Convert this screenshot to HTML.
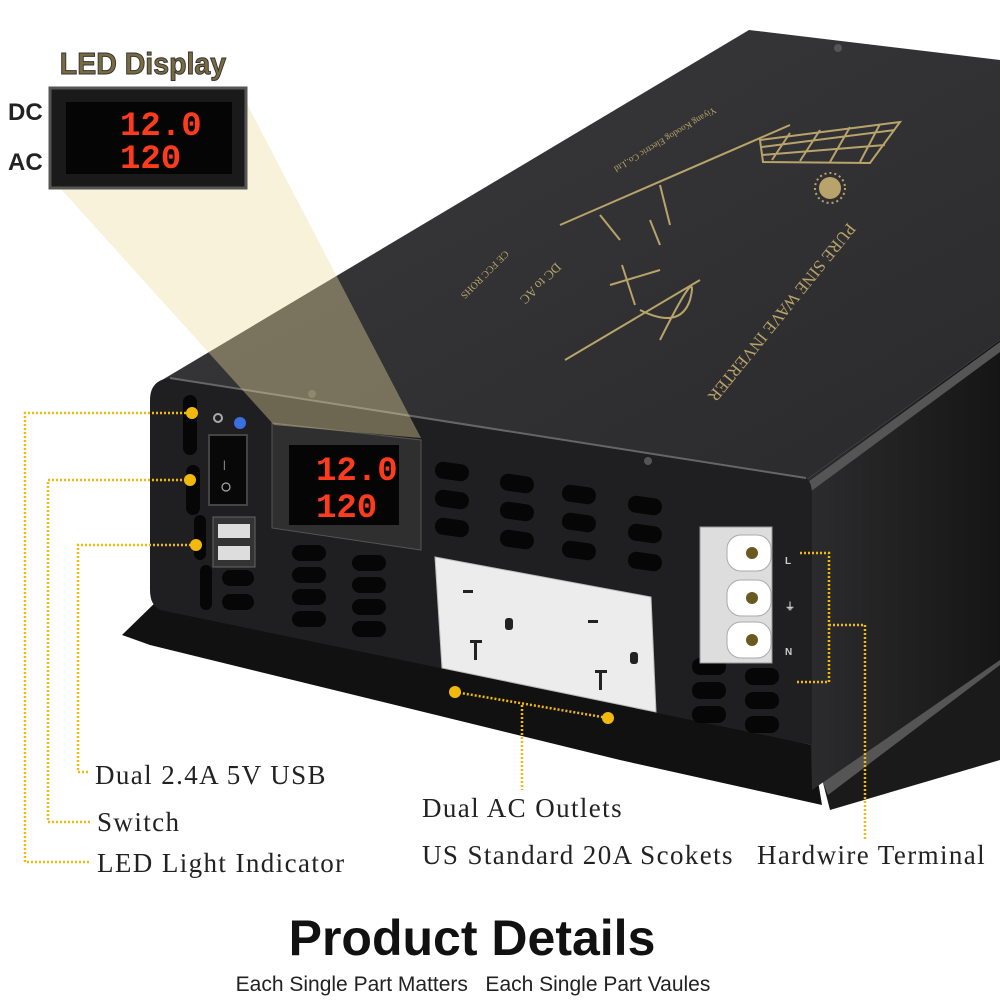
<!DOCTYPE html>
<html><head><meta charset="utf-8"><style>
html,body{margin:0;padding:0;background:#fff;}
svg{display:block;}
.lbl{font-family:"Liberation Serif",serif;font-size:27px;fill:#222;letter-spacing:1.4px;}
</style></head><body>
<svg width="1000" height="1000" viewBox="0 0 1000 1000" xmlns="http://www.w3.org/2000/svg">
<defs>
<linearGradient id="top" x1="0" y1="0" x2="1" y2="1">
<stop offset="0" stop-color="#3a3a3c"/><stop offset="1" stop-color="#2a2a2c"/></linearGradient>
<linearGradient id="side" x1="0" y1="0" x2="1" y2="0">
<stop offset="0" stop-color="#2c2c2e"/><stop offset="1" stop-color="#151515"/></linearGradient>
</defs>
<polygon points="122,635 160,598 812,745 822,805 620,760 150,645" fill="#111"/>
<polygon points="812,740 1000,610 1000,760 830,810" fill="#1a1a1a"/>
<polygon points="822,780 1000,650 1000,665 828,795" fill="#555"/>
<polygon points="806,480 1000,340 1000,660 812,790" fill="url(#side)"/>
<polygon points="808,482 1000,342 1000,352 810,492" fill="#555"/>
<polygon points="749,30 1000,60 1000,340 806,480 157,383" fill="url(#top)"/>
<path d="M170,378 L806,478 Q812,482 812,495 L812,745 L160,610 Q150,605 150,590 L150,400 Q150,380 170,378 Z" fill="#1f1f21"/>
<path d="M170,378 L806,478" stroke="#666" stroke-width="2"/>
<g fill="none" stroke="#b8a46a" stroke-width="2">
<polygon points="760,140 900,122 870,163 763,162"/>
<path d="M790,133 L772,160 M820,130 L800,161 M850,127 L830,162 M880,124 L860,162 M762,147 L895,130 M762,155 L885,145"/>
<path d="M560,225 L790,125 M660,185 L670,225 M600,215 L620,240 M650,220 L660,245"/>
<path d="M610,285 L660,270 M622,265 L635,305"/>
<path d="M565,360 L700,280 M660,340 Q700,260 690,300 Q680,330 640,310"/>
</g>
<circle cx="830" cy="188" r="11" fill="#b8a46a"/>
<circle cx="830" cy="188" r="15" fill="none" stroke="#b8a46a" stroke-width="2" stroke-dasharray="2 3"/>
<g font-family="Liberation Serif,serif" fill="#b8a46a">
<text x="0" y="0" font-size="17" transform="translate(848,222) rotate(129)">PURE SINE WAVE INVERTER</text>
<text x="0" y="0" font-size="13" transform="translate(556,262) rotate(135)">DC to AC</text>
<text x="0" y="0" font-size="10" transform="translate(505,250) rotate(135)">CE FCC ROHS</text>
<text x="0" y="0" font-size="9" transform="translate(714,107) rotate(149)">Yiyang Koodog Electric Co.,Ltd</text>
</g>
<circle cx="838" cy="48" r="4" fill="#555"/>
<circle cx="312" cy="394" r="4" fill="#555"/>
<circle cx="648" cy="461" r="4" fill="#555"/>
<g fill="#060606">
<rect x="435" y="463" width="34" height="17" rx="8" transform="rotate(8 452 471)"/>
<rect x="435" y="491" width="34" height="17" rx="8" transform="rotate(8 452 499)"/>
<rect x="435" y="519" width="34" height="17" rx="8" transform="rotate(8 452 527)"/>
<rect x="500" y="475" width="34" height="17" rx="8" transform="rotate(8 517 483)"/>
<rect x="500" y="503" width="34" height="17" rx="8" transform="rotate(8 517 511)"/>
<rect x="500" y="531" width="34" height="17" rx="8" transform="rotate(8 517 539)"/>
<rect x="562" y="486" width="34" height="17" rx="8" transform="rotate(8 579 494)"/>
<rect x="562" y="514" width="34" height="17" rx="8" transform="rotate(8 579 522)"/>
<rect x="562" y="542" width="34" height="17" rx="8" transform="rotate(8 579 550)"/>
<rect x="628" y="497" width="34" height="17" rx="8" transform="rotate(8 645 505)"/>
<rect x="628" y="525" width="34" height="17" rx="8" transform="rotate(8 645 533)"/>
<rect x="628" y="553" width="34" height="17" rx="8" transform="rotate(8 645 561)"/>
<rect x="222" y="570" width="32" height="16" rx="8"/>
<rect x="222" y="594" width="32" height="16" rx="8"/>
<rect x="292" y="545" width="34" height="16" rx="8"/>
<rect x="292" y="567" width="34" height="16" rx="8"/>
<rect x="292" y="589" width="34" height="16" rx="8"/>
<rect x="292" y="611" width="34" height="16" rx="8"/>
<rect x="352" y="555" width="34" height="16" rx="8"/>
<rect x="352" y="577" width="34" height="16" rx="8"/>
<rect x="352" y="599" width="34" height="16" rx="8"/>
<rect x="352" y="621" width="34" height="16" rx="8"/>
<rect x="183" y="395" width="14" height="60" rx="7"/>
<rect x="186" y="465" width="14" height="50" rx="7"/>
<rect x="194" y="515" width="12" height="45" rx="6"/>
<rect x="200" y="565" width="12" height="45" rx="6"/>
<rect x="692" y="658" width="34" height="17" rx="8"/>
<rect x="692" y="682" width="34" height="17" rx="8"/>
<rect x="692" y="706" width="34" height="17" rx="8"/>
<rect x="745" y="668" width="34" height="17" rx="8"/>
<rect x="745" y="692" width="34" height="17" rx="8"/>
<rect x="745" y="716" width="34" height="17" rx="8"/>
</g>
<rect x="209" y="435" width="38" height="70" fill="#080808" stroke="#444" stroke-width="2"/>
<text x="223" y="468" font-family="Liberation Sans,sans-serif" font-size="10" fill="#aaa">|</text>
<circle cx="226" cy="487" r="4" fill="none" stroke="#aaa" stroke-width="1.2"/>
<rect x="213" y="517" width="42" height="50" fill="#333" stroke="#666"/>
<rect x="218" y="524" width="32" height="14" fill="#ddd"/>
<rect x="218" y="546" width="32" height="14" fill="#ddd"/>
<circle cx="218" cy="418" r="4" fill="none" stroke="#aaa" stroke-width="2"/>
<circle cx="240" cy="423" r="6" fill="#3a6fe0"/>
<polygon points="272,423 421,440 421,550 272,528" fill="#2f2f30" stroke="#555"/>
<rect x="289" y="445" width="110" height="80" fill="#050505"/>
<g font-family="Liberation Mono,monospace" font-size="34" fill="#ff3b1d" font-weight="bold">
<text x="316" y="480">12.0</text><text x="316" y="517">120</text></g>
<polygon points="435,557 651,597 656,712 442,668" fill="#ececec" stroke="#bbb"/>
<g fill="#222">
<rect x="463" y="590" width="10" height="3"/><rect x="505" y="618" width="8" height="12" rx="3"/>
<rect x="470" y="640" width="12" height="3"/><rect x="474" y="640" width="3" height="20"/>
<rect x="588" y="620" width="10" height="3"/><rect x="630" y="652" width="8" height="12" rx="3"/>
<rect x="595" y="670" width="12" height="3"/><rect x="599" y="670" width="3" height="20"/>
</g>
<rect x="700" y="527" width="72" height="136" fill="#ddd" stroke="#999"/>
<g fill="#fff" stroke="#aaa">
<rect x="727" y="535" width="44" height="36" rx="14"/>
<rect x="727" y="580" width="44" height="36" rx="14"/>
<rect x="727" y="622" width="44" height="36" rx="14"/></g>
<g fill="#6a5a20"><circle cx="752" cy="553" r="6"/><circle cx="752" cy="598" r="6"/><circle cx="752" cy="640" r="6"/></g>
<g font-family="Liberation Sans,sans-serif" font-size="10" fill="#ccc" font-weight="bold">
<text x="785" y="564">L</text><text x="785" y="610">⏚</text><text x="785" y="655">N</text></g>
<polygon points="60,188 245,100 421,438 274,425" fill="rgba(236,222,160,0.38)"/>
<rect x="50" y="88" width="196" height="100" fill="#1a1a1a" stroke="#555" stroke-width="3"/>
<rect x="66" y="102" width="166" height="72" fill="#050505"/>
<g font-family="Liberation Mono,monospace" font-size="34" fill="#ff3b1d" font-weight="bold">
<text x="120" y="135">12.0</text><text x="120" y="168">120</text></g>
<text x="65" y="74" font-family="Liberation Sans,sans-serif" font-weight="bold" font-size="31" fill="#7a6a40" stroke="#333" stroke-width="1" transform="scale(0.92,1)">LED Display</text>
<text x="8" y="120" font-family="Liberation Sans,sans-serif" font-weight="bold" font-size="24" fill="#222">DC</text>
<text x="8" y="170" font-family="Liberation Sans,sans-serif" font-weight="bold" font-size="24" fill="#222">AC</text>
<g fill="none" stroke="#f2b90d" stroke-width="2.5" stroke-dasharray="2 2">
<path d="M190,413 H25 V862 H90"/>
<path d="M190,480 H48 V822 H90"/>
<path d="M195,545 H78 V772 H90"/>
<path d="M455,692 L608,718 M522,705 V790"/>
<path d="M800,553 H829 V682 H797 M829,625 H865 V840"/>
</g>
<g fill="#f2b90d">
<circle cx="192" cy="413" r="6"/><circle cx="190" cy="480" r="6"/><circle cx="196" cy="545" r="6"/>
<circle cx="455" cy="692" r="6"/><circle cx="608" cy="718" r="6"/></g>
<text class="lbl" x="95" y="784">Dual 2.4A 5V USB</text>
<text class="lbl" x="97" y="831">Switch</text>
<text class="lbl" x="97" y="872">LED Light Indicator</text>
<text class="lbl" x="422" y="817">Dual AC Outlets</text>
<text class="lbl" x="422" y="864">US Standard 20A Scokets</text>
<text class="lbl" x="757" y="864">Hardwire Terminal</text>
<text x="472" y="955" text-anchor="middle" font-family="Liberation Sans,sans-serif" font-weight="bold" font-size="50" fill="#111">Product Details</text>
<text x="473" y="991" text-anchor="middle" font-family="Liberation Sans,sans-serif" font-size="21" fill="#222" xml:space="preserve">Each Single Part Matters   Each Single Part Vaules</text>
</svg>
</body></html>
